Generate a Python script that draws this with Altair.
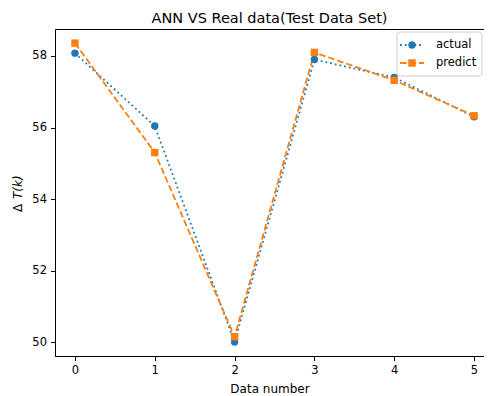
import altair as alt
import pandas as pd

data_number = [0, 1, 2, 3, 4, 5]
actual = [58.08, 56.04, 50.0, 57.90, 57.40, 56.30]
predict = [58.36, 55.30, 50.15, 58.10, 57.32, 56.33]
series_names = ["actual", "predict"]

df = pd.DataFrame({
    "x": data_number * 2,
    "value": actual + predict,
    "series": [series_names[0]] * len(actual) + [series_names[1]] * len(predict),
})
leg = pd.DataFrame({"series": series_names})

colors = ["#1f77b4", "#ff7f0e"]
dashes = [[1.8, 3.0], [6.6, 2.9]]
shapes = ["circle", "square"]
FONT = "DejaVu Sans"

color_scale = alt.Scale(domain=series_names, range=colors)
dash_scale = alt.Scale(domain=series_names, range=dashes)
shape_scale = alt.Scale(domain=series_names, range=shapes)

xs = alt.X("x:Q", scale=alt.Scale(domain=[-0.25, 5.125], nice=False, zero=False),
           axis=alt.Axis(values=data_number, title="Data number", format="d"))
ys = alt.Y("value:Q", scale=alt.Scale(domain=[49.61, 58.755], nice=False, zero=False),
           axis=alt.Axis(values=[50, 52, 54, 56, 58], title=None))

base = alt.Chart(df)
lines = base.mark_line(strokeWidth=1.8).encode(
    x=xs, y=ys,
    color=alt.Color("series:N", scale=color_scale, legend=None),
    strokeDash=alt.StrokeDash("series:N", scale=dash_scale, legend=None),
    detail="series:N",
)
points = base.mark_point(filled=True, opacity=1, size=55).encode(
    x=xs, y=ys,
    color=alt.Color("series:N", scale=color_scale, legend=None),
    shape=alt.Shape("series:N", scale=shape_scale, legend=None),
)
main = alt.layer(lines, points)

# y-axis title: upright delta, italic T(k)
ytitle_a = alt.Chart(leg).transform_filter(alt.datum.series == "actual").mark_text(
    text="Δ", angle=270, align="left", baseline="middle", font=FONT, fontSize=12,
    color="black").encode(x=alt.value(-37), y=alt.value(183))
ytitle_b = alt.Chart(leg).transform_filter(alt.datum.series == "actual").mark_text(
    text="T(k)", angle=270, align="left", baseline="middle", font=FONT, fontSize=12,
    fontStyle="italic", color="black").encode(x=alt.value(-37), y=alt.value(170))

box = alt.Chart(leg).transform_filter(alt.datum.series == "actual").mark_rect(
    fill="white", fillOpacity=0.85, stroke="#cccccc", strokeWidth=1, cornerRadius=3
).encode(x=alt.value(342), x2=alt.value(427), y=alt.value(3), y2=alt.value(47))

legend_parts = [box, ytitle_a, ytitle_b]
for i, name in enumerate(series_names):
    sub = alt.Chart(leg).transform_filter(alt.datum.series == name)
    yv = alt.value(16 + 18 * i)
    legend_parts.append(sub.mark_rule(strokeWidth=1.8).encode(
        x=alt.value(345), x2=alt.value(369), y=yv,
        color=alt.Color("series:N", scale=color_scale, legend=None),
        strokeDash=alt.StrokeDash("series:N", scale=dash_scale, legend=None),
    ))
    legend_parts.append(sub.mark_point(filled=True, opacity=1, size=55).encode(
        x=alt.value(357), y=yv,
        color=alt.Color("series:N", scale=color_scale, legend=None),
        shape=alt.Shape("series:N", scale=shape_scale, legend=None),
    ))
    legend_parts.append(sub.mark_text(align="left", baseline="middle", font=FONT,
                                      fontSize=11.5, color="black").encode(
        x=alt.value(381), y=yv, text="series:N"))

chart = alt.layer(main, *legend_parts).properties(
    width=429, height=327,
    title=alt.TitleParams("ANN VS Real data(Test Data Set)", font=FONT, fontSize=14.5,
                          fontWeight="normal", color="black", offset=3),
    autosize=alt.AutoSizeParams(type="none"),
    padding={"left": 47, "top": 21, "right": 0, "bottom": 38},
).configure_view(
    stroke="black", strokeWidth=1
).configure_axis(
    grid=False, domainColor="black", tickColor="black", tickSize=4.5,
    labelFont=FONT, labelFontSize=11.5, labelColor="black", labelPadding=4,
    titleFont=FONT, titleFontSize=12, titleFontWeight="normal", titleColor="black",
    labelFlush=False, labelOverlap=False,
).configure_axisX(titlePadding=7)

chart.save("out.html", embed_options={"renderer": "svg", "actions": False})
